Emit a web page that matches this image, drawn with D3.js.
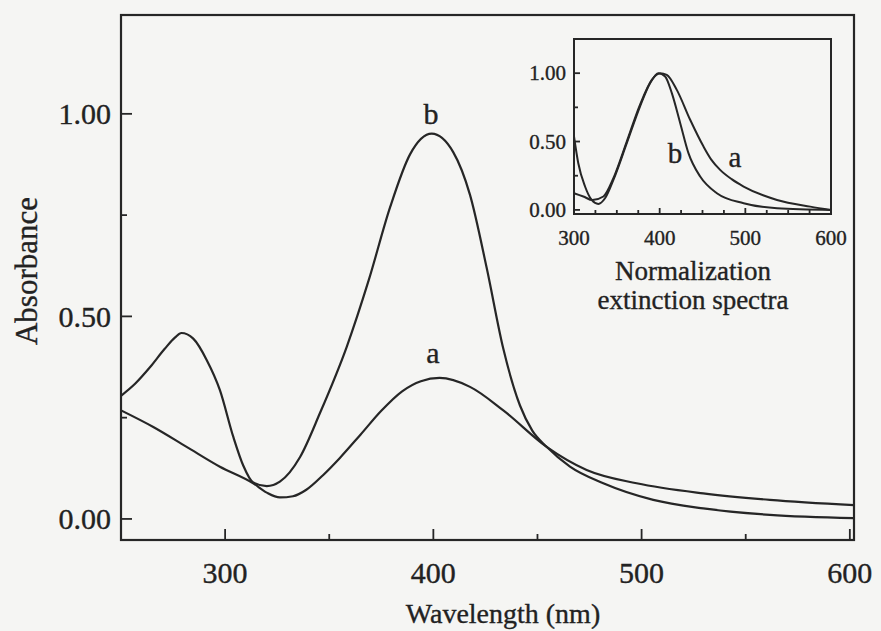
<!DOCTYPE html>
<meta charset="utf-8">
<body>
<script src="https://cdn.jsdelivr.net/npm/d3@7"></script>
<style>
    html, body {
        margin: 0;
        background: #f5f5f3;
    }
    text {
        font-family: "Liberation Serif", "Times New Roman", serif;
        fill: #222;
        stroke: #222;
        stroke-width: 0.35px;
    }
</style>
<script>
// main spectra: wavelength (nm) and absorbance
var aNm  = [250, 265.5, 281.5, 297.5, 313.5, 320, 326.3, 332.6, 339, 347, 355, 365, 375, 385, 394, 403, 417.6, 433.6, 454.4, 473.6, 497.6, 529.6, 561.6, 602],
    aAbs = [0.268, 0.227, 0.178, 0.129, 0.088, 0.065, 0.053, 0.056, 0.072, 0.108, 0.15, 0.208, 0.267, 0.315, 0.34, 0.348, 0.326, 0.268, 0.178, 0.121, 0.088, 0.063, 0.047, 0.034];

var bNm  = [250, 257, 264, 271, 276, 279, 284.7, 291.2, 297.5, 303.9, 308.7, 313.5, 320, 326.3, 336, 345.6, 358.4, 369, 379.2, 388.8, 399.2, 409.6, 417.6, 425.6, 433.6, 441.6, 447.5, 454.4, 465.6, 481.6, 505.6, 529.6, 561.6, 602],
    bAbs = [0.304, 0.335, 0.375, 0.42, 0.448, 0.459, 0.445, 0.392, 0.318, 0.203, 0.132, 0.09, 0.081, 0.092, 0.153, 0.262, 0.425, 0.59, 0.769, 0.9, 0.951, 0.905, 0.8, 0.62, 0.42, 0.28, 0.218, 0.178, 0.129, 0.088, 0.047, 0.026, 0.010, 0.002];

// inset: normalized extinction spectra
var inANm  = [300, 310.9, 321.5, 334.3, 346, 361.6, 377, 390.8, 400.5, 408.3, 420, 435.6, 451.2, 460, 470.6, 484, 498, 537, 575.8, 600],
    inAVal = [0.122, 0.098, 0.072, 0.098, 0.232, 0.5, 0.768, 0.951, 1.0, 0.988, 0.878, 0.659, 0.463, 0.37, 0.293, 0.225, 0.171, 0.073, 0.024, 0.0];

var inBNm  = [300, 305, 312.9, 320.6, 328.4, 336.2, 346, 361.6, 377, 388.8, 398.6, 406.4, 414.2, 424, 433.6, 447.3, 466.8, 498, 537, 600],
    inBVal = [0.537, 0.341, 0.171, 0.073, 0.044, 0.085, 0.22, 0.488, 0.756, 0.927, 1.0, 0.976, 0.854, 0.634, 0.415, 0.244, 0.122, 0.049, 0.012, 0.0];

var xTicks = [300, 400, 500, 600],
    xMinor = [350, 450, 550],
    yTicks = [0, 0.5, 1.0],
    yMinor = [0.25, 0.75],
    inXTicks = [300, 400, 500, 600],
    inXMinor = [325, 350, 375, 425, 450, 475, 525, 550, 575],
    inYTicks = [0, 0.5, 1.0],
    inYMinor = [0.25, 0.75];

var ink = "#262626";

var svg = d3.select("body").append("svg")
    .attr("width", 881)
    .attr("height", 631);

var x = d3.scaleLinear().domain([250, 602]).range([121, 854]),
    y = d3.scaleLinear().domain([-0.052, 1.244]).range([540, 15]);

function zip(xs, ys) {
    return xs.map(function(v, i) { return [v, ys[i]]; });
}

function drawTicks(g, vals, fx, fy, len, dir) {
    g.selectAll(null)
        .data(vals)
        .enter().append("line")
        .attr("x1", function(d) { return dir == "x" ? fx(d) : fx; })
        .attr("x2", function(d) { return dir == "x" ? fx(d) : fx + len; })
        .attr("y1", function(d) { return dir == "x" ? fy : fy(d); })
        .attr("y2", function(d) { return dir == "x" ? fy - len : fy(d); })
        .attr("stroke", ink)
        .attr("stroke-width", 1.8);
}

// main chart
var main = svg.append("g");

var line = d3.line()
    .x(function(d) { return x(d[0]); })
    .y(function(d) { return y(d[1]); })
    .curve(d3.curveMonotoneX);

main.append("defs").append("clipPath").attr("id", "clipMain")
    .append("rect").attr("x", 121).attr("y", 15).attr("width", 733).attr("height", 525);

main.selectAll(".spec")
    .data([zip(aNm, aAbs), zip(bNm, bAbs)])
    .enter().append("path")
    .attr("class", "spec")
    .attr("clip-path", "url(#clipMain)")
    .attr("fill", "none")
    .attr("stroke", ink)
    .attr("stroke-width", 2.2)
    .attr("d", line);

main.append("rect")
    .attr("x", 121).attr("y", 15)
    .attr("width", 733).attr("height", 525)
    .attr("fill", "none")
    .attr("stroke", ink)
    .attr("stroke-width", 2.2);

drawTicks(main, xTicks, x, 540, 11, "x");
drawTicks(main, xMinor, x, 540, 6, "x");
drawTicks(main, yTicks, 121, y, 11, "y");
drawTicks(main, yMinor, 121, y, 6, "y");

main.selectAll(".xl")
    .data(xTicks)
    .enter().append("text")
    .attr("x", function(d) { return x(d); })
    .attr("y", 583)
    .attr("text-anchor", "middle")
    .style("font-size", "30px")
    .text(function(d) { return d; });

main.selectAll(".yl")
    .data(yTicks)
    .enter().append("text")
    .attr("x", 111)
    .attr("y", function(d) { return y(d); })
    .attr("dy", "0.34em")
    .attr("text-anchor", "end")
    .style("font-size", "30px")
    .text(function(d) { return d3.format(".2f")(d); });

main.append("text")
    .attr("x", 503).attr("y", 623)
    .attr("text-anchor", "middle")
    .style("font-size", "28px")
    .text("Wavelength (nm)");

main.append("text")
    .attr("transform", "translate(37,271) rotate(-90)")
    .attr("text-anchor", "middle")
    .style("font-size", "31px")
    .text("Absorbance");

main.append("text")
    .attr("x", 431).attr("y", 124)
    .attr("text-anchor", "middle")
    .style("font-size", "30px")
    .text("b");

main.append("text")
    .attr("x", 433).attr("y", 363)
    .attr("text-anchor", "middle")
    .style("font-size", "30px")
    .text("a");

// inset
var ix = d3.scaleLinear().domain([300, 600]).range([574, 831]),
    iy = d3.scaleLinear().domain([-0.03, 1.25]).range([214, 39]);

var inset = svg.append("g");

var iline = d3.line()
    .x(function(d) { return ix(d[0]); })
    .y(function(d) { return iy(d[1]); })
    .curve(d3.curveMonotoneX);

inset.selectAll(".ispec")
    .data([zip(inANm, inAVal), zip(inBNm, inBVal)])
    .enter().append("path")
    .attr("fill", "none")
    .attr("stroke", ink)
    .attr("stroke-width", 2)
    .attr("d", iline);

inset.append("rect")
    .attr("x", 574).attr("y", 39)
    .attr("width", 257).attr("height", 175)
    .attr("fill", "none")
    .attr("stroke", ink)
    .attr("stroke-width", 2);

drawTicks(inset, inXTicks, ix, 214, 6, "x");
drawTicks(inset, inXMinor, ix, 214, 4, "x");
drawTicks(inset, inYTicks, 574, iy, 6, "y");
drawTicks(inset, inYMinor, 574, iy, 4, "y");

inset.selectAll(".ixl")
    .data(inXTicks)
    .enter().append("text")
    .attr("x", function(d) { return ix(d); })
    .attr("y", 245)
    .attr("text-anchor", "middle")
    .style("font-size", "21px")
    .text(function(d) { return d; });

inset.selectAll(".iyl")
    .data(inYTicks)
    .enter().append("text")
    .attr("x", 566)
    .attr("y", function(d) { return iy(d); })
    .attr("dy", "0.34em")
    .attr("text-anchor", "end")
    .style("font-size", "21px")
    .text(function(d) { return d3.format(".2f")(d); });

inset.append("text")
    .attr("x", 675).attr("y", 163)
    .attr("text-anchor", "middle")
    .style("font-size", "29px")
    .text("b");

inset.append("text")
    .attr("x", 735).attr("y", 167)
    .attr("text-anchor", "middle")
    .style("font-size", "29px")
    .text("a");

inset.append("text")
    .attr("x", 693).attr("y", 280)
    .attr("text-anchor", "middle")
    .style("font-size", "27px")
    .text("Normalization");

inset.append("text")
    .attr("x", 693).attr("y", 309)
    .attr("text-anchor", "middle")
    .style("font-size", "27px")
    .text("extinction spectra");
</script>
